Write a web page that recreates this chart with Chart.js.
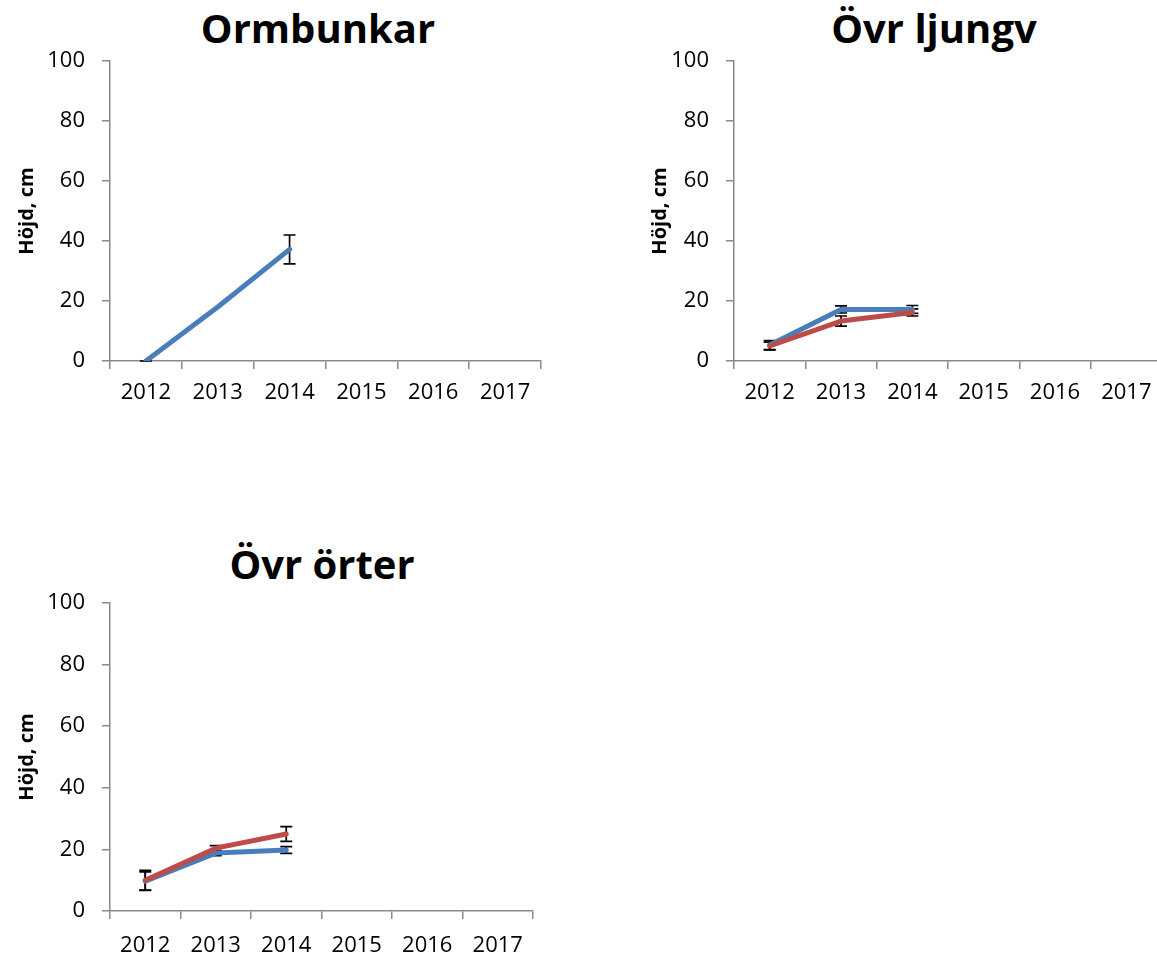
<!DOCTYPE html>
<html>
<head>
<meta charset="utf-8">
<script src="https://cdn.jsdelivr.net/npm/chart.js@4/dist/chart.umd.min.js"></script>
<style>
  body { margin: 0; background: #fff; }
  #wrap { position: relative; width: 1157px; height: 959px; overflow: hidden; background: #fff; }
  canvas { position: absolute; }
  .rubrik { position: absolute; width: 400px; text-align: center; font: bold 40px 'Open Sans', sans-serif; line-height: 48px; color: #000; }
</style>
</head>
<body>
<div id="wrap">
  <div class="rubrik" style="left:118px; top:4px;">Ormbunkar</div>
  <div class="rubrik" style="left:734px; top:4px;">Övr ljungv</div>
  <div class="rubrik" style="left:122px; top:540px;">Övr örter</div>
  <canvas id="c1" width="560" height="420" style="left:0; top:0;"></canvas>
  <canvas id="c2" width="540" height="420" style="left:624px; top:0;"></canvas>
  <canvas id="c3" width="560" height="419" style="left:0; top:540px;"></canvas>
</div>
<script>
// värden avlästa från originalet
const ar = ['2012', '2013', '2014', '2015', '2016', '2017'];

const ormbunkarBla = [0, 18, 37.2, null, null, null];
const ormbunkarBlaFel = [0, null, 4.8, null, null, null];

const ljungvBla = [5.3, 17.2, 17.2, null, null, null];
const ljungvBlaFel = [1.5, 1.2, 1.3, null, null, null];
const ljungvRod = [5.0, 13.3, 16.2, null, null, null];
const ljungvRodFel = [1.3, 1.7, 1.2, null, null, null];

const orterBla = [9.7, 18.8, 19.8, null, null, null];
const orterBlaFel = [3.0, 0.8, 1.1, null, null, null];
const orterRod = [10.0, 20.4, 25.0, null, null, null];
const orterRodFel = [3.2, 0.8, 2.4, null, null, null];

const BLA = '#4A7EBB';
const ROD = '#BE4B48';
const GRA = '#898989';

Chart.defaults.font.family = "'Open Sans', sans-serif";
Chart.defaults.color = '#000';

// felstaplar ritas under linjerna, som i Excel
const felstaplar = {
    id: 'felstaplar',
    beforeDatasetsDraw(chart) {
        const ctx = chart.ctx;
        const y = chart.scales.y;
        ctx.save();
        ctx.strokeStyle = '#000';
        ctx.lineWidth = 1.7;
        chart.data.datasets.forEach((ds, i) => {
            if (!ds.fel) return;
            const meta = chart.getDatasetMeta(i);
            ds.fel.forEach((e, j) => {
                const v = ds.data[j];
                if (e == null || v == null) return;
                const x = meta.data[j].x;
                const yt = y.getPixelForValue(v + e);
                const yb = y.getPixelForValue(v - e);
                ctx.beginPath();
                ctx.moveTo(x, yt); ctx.lineTo(x, yb);
                ctx.moveTo(x - 6, yt); ctx.lineTo(x + 6, yt);
                ctx.moveTo(x - 6, yb); ctx.lineTo(x + 6, yb);
                ctx.stroke();
            });
        });
        ctx.restore();
    }
};

function serie(data, fel, farg, order) {
    return {
        data, fel,
        borderColor: farg, backgroundColor: farg,
        borderWidth: 5, pointRadius: 0, tension: 0,
        borderCapStyle: 'round', borderJoinStyle: 'round',
        order
    };
}

function ritaDiagram(id, datasets, lage) {
    return new Chart(document.getElementById(id), {
        type: 'line',
        data: { labels: ar, datasets },
        options: {
            responsive: false,
            animation: false,
            layout: { padding: { top: lage.topp, right: lage.hoger, left: 0, bottom: 0 } },
            plugins: { legend: { display: false }, tooltip: { enabled: false } },
            scales: {
                x: {
                    offset: true,
                    grid: { offset: true, drawOnChartArea: false, color: GRA, lineWidth: 1.5, tickLength: 8 },
                    border: { color: GRA, width: 1.5 },
                    ticks: { font: { size: 22 }, padding: lage.xPad, maxRotation: 0 },
                    afterFit: s => { s.height = lage.xHojd; }
                },
                y: {
                    min: 0, max: 100,
                    grid: { drawOnChartArea: false, color: GRA, lineWidth: 1.5, tickLength: 8 },
                    border: { color: GRA, width: 1.5 },
                    ticks: { stepSize: 20, font: { size: 22 }, padding: 17 },
                    title: { display: true, text: 'Höjd, cm', font: { size: 20, weight: 'bold' }, padding: { top: lage.titelPad, bottom: 0 } },
                    afterFit: s => { s.width = 110; }
                }
            }
        },
        plugins: [felstaplar]
    });
}

ritaDiagram('c1', [
    serie(ormbunkarBla, ormbunkarBlaFel, BLA, 1)
], { topp: 61, hoger: 19, xHojd: 59, xPad: 11, titelPad: 15 });

ritaDiagram('c2', [
    serie(ljungvBla, ljungvBlaFel, BLA, 1),
    serie(ljungvRod, ljungvRodFel, ROD, 0)
], { topp: 61, hoger: 2, xHojd: 59, xPad: 11, titelPad: 24 });

ritaDiagram('c3', [
    serie(orterBla, orterBlaFel, BLA, 1),
    serie(orterRod, orterRodFel, ROD, 0)
], { topp: 63, hoger: 27, xHojd: 48, xPad: 14, titelPad: 15 });
</script>
</body>
</html>
